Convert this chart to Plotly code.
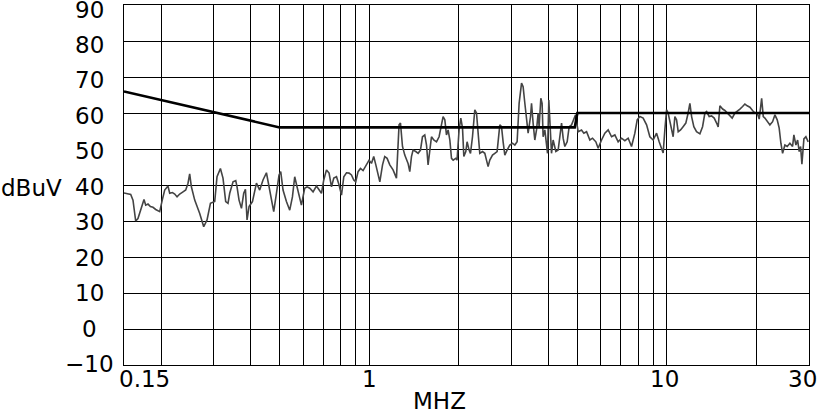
"""Conducted emission scan (dBuV vs MHz) with limit line, drawn with Plotly."""

import math
import plotly.graph_objects as go

# Measured trace: frequency in MHz and level in dBuV
freq_mhz = [
    0.150, 0.152, 0.158, 0.1608, 0.1642, 0.1671, 0.1716, 0.1751, 0.1774, 0.1806,
    0.1840, 0.1877, 0.1917, 0.1942, 0.1977, 0.2019, 0.2055, 0.2108, 0.2136, 0.2182,
    0.2221, 0.2261, 0.2308, 0.2368, 0.2418, 0.2461, 0.2493, 0.2526, 0.2592, 0.2694,
    0.2779, 0.2851, 0.2927, 0.3026, 0.3080, 0.3162, 0.3226, 0.3294, 0.3353, 0.3398,
    0.3486, 0.3560, 0.3596, 0.3652, 0.3721, 0.3787, 0.3837, 0.3885, 0.3946, 0.4051,
    0.4178, 0.4285, 0.4396, 0.4514, 0.4606, 0.4692, 0.4776, 0.4877, 0.4976, 0.5042,
    0.5132, 0.5269, 0.5405, 0.5519, 0.5618, 0.5719, 0.5840, 0.5917, 0.6067, 0.6180,
    0.6311, 0.6474, 0.6646, 0.6782, 0.6909, 0.7033, 0.7182, 0.7328, 0.7466, 0.7600,
    0.7761, 0.7918, 0.8067, 0.8212, 0.8385, 0.8554, 0.8713, 0.8869, 0.9007, 0.9171,
    0.9342, 0.9532, 0.9732, 0.9985, 1.017, 1.035, 1.052, 1.071, 1.085, 1.108,
    1.127, 1.148, 1.172, 1.202, 1.234, 1.259, 1.273, 1.293, 1.316, 1.350,
    1.368, 1.386, 1.403, 1.433, 1.459, 1.486, 1.509, 1.536, 1.557, 1.576,
    1.597, 1.618, 1.647, 1.682, 1.716, 1.748, 1.770, 1.794, 1.817, 1.840,
    1.865, 1.889, 1.913, 1.953, 1.972, 2.003, 2.030, 2.057, 2.078, 2.110,
    2.131, 2.164, 2.188, 2.222, 2.262, 2.292, 2.320, 2.351, 2.401, 2.444,
    2.476, 2.507, 2.540, 2.594, 2.641, 2.688, 2.745, 2.781, 2.816, 2.853,
    2.904, 2.966, 3.028, 3.083, 3.138, 3.187, 3.247, 3.287, 3.331, 3.375,
    3.417, 3.481, 3.508, 3.551, 3.598, 3.646, 3.692, 3.720, 3.770, 3.807,
    3.837, 3.888, 3.939, 3.970, 4.010, 4.041, 4.094, 4.146, 4.234, 4.310,
    4.367, 4.425, 4.480, 4.539, 4.621, 4.693, 4.781, 4.867, 4.931, 5.031,
    5.164, 5.258, 5.369, 5.508, 5.623, 5.769, 5.873, 6.029, 6.185, 6.346,
    6.514, 6.683, 6.855, 7.038, 7.221, 7.408, 7.603, 7.802, 7.943, 8.110,
    8.318, 8.541, 8.761, 8.988, 9.227, 9.415, 9.592, 9.710, 9.838, 9.970,
    10.09, 10.22, 10.36, 10.49, 10.63, 10.77, 10.91, 11.11, 11.33, 11.57,
    11.78, 11.94, 12.10, 12.31, 12.57, 12.90, 13.17, 13.41, 13.59, 13.86,
    14.12, 14.41, 14.68, 14.86, 15.06, 15.38, 15.65, 15.94, 16.27, 16.56,
    16.91, 17.21, 17.58, 17.95, 18.27, 18.60, 18.99, 19.39, 19.74, 20.10,
    20.41, 20.80, 21.06, 21.33, 21.72, 22.17, 22.64, 23.05, 23.46, 23.82,
    24.14, 24.46, 24.90, 25.35, 25.88, 26.42, 26.69, 27.11, 27.47, 27.81,
    28.11, 28.40, 28.84, 29.29, 29.82,
]
level_dbuv = [
    37.8, 37.7, 37.4, 35.8, 30.0, 30.7, 33.5, 36.0, 34.4, 34.7,
    34.0, 33.8, 33.2, 33.0, 32.6, 36.0, 38.6, 39.7, 37.7, 37.9,
    37.5, 36.7, 37.5, 38.1, 38.6, 40.5, 43.1, 39.5, 35.8, 32.1,
    28.4, 30.3, 34.9, 35.4, 42.3, 44.6, 41.9, 35.4, 34.9, 37.7,
    40.9, 41.2, 39.5, 35.8, 33.5, 37.7, 38.8, 30.3, 34.0, 35.4,
    40.5, 38.6, 41.4, 43.4, 39.5, 35.8, 32.6, 37.7, 42.8, 43.7,
    38.6, 35.4, 33.0, 36.7, 42.3, 39.5, 35.8, 34.4, 39.1, 39.5,
    39.1, 38.1, 39.7, 38.8, 37.7, 41.4, 44.2, 43.3, 39.5, 41.9,
    42.3, 40.0, 37.2, 42.3, 43.4, 43.3, 42.8, 41.4, 40.9, 43.7,
    44.6, 44.0, 45.3, 46.9, 46.0, 47.9, 45.6, 42.3, 40.9, 45.6,
    47.9, 47.4, 45.6, 44.2, 41.9, 56.7, 57.2, 50.7, 48.3, 46.0,
    43.7, 47.9, 49.7, 49.3, 48.8, 49.7, 53.4, 53.9, 51.1, 45.6,
    49.7, 53.4, 52.5, 52.0, 53.4, 56.7, 59.0, 58.1, 53.9, 55.3,
    52.5, 47.4, 46.9, 47.4, 46.9, 55.3, 58.6, 55.8, 47.9, 49.3,
    52.0, 49.7, 48.8, 53.4, 60.9, 60.0, 53.4, 48.8, 49.3, 48.8,
    46.9, 45.1, 46.9, 48.3, 48.8, 49.3, 56.7, 56.2, 52.0, 48.3,
    49.7, 51.1, 51.6, 51.1, 52.0, 62.7, 68.3, 67.3, 62.7, 57.2,
    54.4, 59.0, 62.7, 57.2, 52.5, 55.3, 60.0, 56.2, 64.1, 62.7,
    53.4, 55.3, 49.7, 48.8, 63.6, 56.2, 48.8, 52.5, 49.3, 49.7,
    53.4, 57.2, 53.0, 50.7, 52.0, 56.2, 56.7, 58.6, 59.5, 54.8,
    55.3, 54.4, 54.8, 52.5, 53.0, 52.0, 50.2, 52.5, 54.4, 55.3,
    53.4, 53.9, 52.0, 53.0, 52.3, 53.0, 50.7, 54.4, 58.1, 59.0,
    58.6, 56.7, 53.4, 52.5, 54.4, 52.0, 49.7, 48.9, 55.3, 60.9,
    60.0, 57.6, 55.3, 53.4, 59.0, 58.1, 54.8, 55.3, 56.2, 57.2,
    60.0, 62.7, 59.0, 56.2, 54.8, 54.2, 56.2, 60.0, 60.4, 59.0,
    59.2, 58.6, 57.2, 56.1, 62.0, 61.1, 60.7, 60.1, 59.2, 58.6,
    60.0, 60.4, 61.1, 61.8, 62.5, 62.0, 61.6, 60.7, 60.0, 60.0,
    58.3, 64.1, 59.0, 58.6, 57.6, 56.7, 57.6, 59.5, 58.1, 55.8,
    51.6, 48.8, 51.1, 50.7, 51.6, 50.7, 53.9, 51.1, 52.5, 49.3,
    50.7, 45.8, 52.8, 53.4, 52.0,
]

# Limit line
limit_freq = [0.15, 0.5, 4.9, 5.0, 30.0]
limit_level = [66.0, 56.0, 56.0, 60.0, 60.0]

# Axis grid / labels
x_grid = [0.2, 0.3, 0.4, 0.5, 0.6, 0.7, 0.8, 0.9, 1, 2, 3, 4, 5, 6, 7, 8, 9, 10, 20]
y_ticks = [-10, 0, 10, 20, 30, 40, 50, 60, 70, 80, 90]
x_labels = ["0.15", "1", "10", "30"]
x_label_pos = [0.15, 1, 10, 30]

X_MIN, X_MAX = 0.15, 30.0
FONT = "DejaVu Sans, Verdana, sans-serif"
LABEL_FONT = dict(family=FONT, size=23, color='black')

fig = go.Figure()

fig.add_trace(go.Scatter(
    x=freq_mhz,
    y=level_dbuv,
    mode='lines',
    line=dict(color='#444444', width=1.6),
    hoverinfo='skip',
))

fig.add_trace(go.Scatter(
    x=limit_freq,
    y=limit_level,
    mode='lines',
    line=dict(color='black', width=2.6),
    hoverinfo='skip',
))

# Y tick labels, centred in a column left of the plot
for v in y_ticks:
    fig.add_annotation(
        text=f'{v}'.replace('-', '\u2212'), x=0, y=v,
        xref='paper', yref='y', xanchor='center', yanchor='middle',
        xshift=-35, yshift=-(4.5 - (90 - v) * 0.055), showarrow=False,
        font=LABEL_FONT,
    )

# X tick labels (annotation x on a log axis is in log10 units)
shifts = [20, 0, -2, -7]
for text, pos, sh in zip(x_labels, x_label_pos, shifts):
    fig.add_annotation(
        text=text, x=math.log10(pos), y=0,
        xref='x', yref='paper', xanchor='center', yanchor='middle',
        xshift=sh, yshift=-13.5, showarrow=False,
        font=LABEL_FONT,
    )

fig.add_annotation(
    text='dBuV', x=0, y=40, xref='paper', yref='y',
    xanchor='left', yanchor='middle', xshift=-125, yshift=-3,
    showarrow=False, font=LABEL_FONT,
)
fig.add_annotation(
    text='MHZ', x=0.4606, y=0, xref='paper', yref='paper',
    xanchor='center', yanchor='middle', yshift=-36, showarrow=False,
    font=LABEL_FONT,
)

fig.update_layout(
    width=817,
    height=414,
    margin=dict(l=124, r=8, t=5, b=49),
    paper_bgcolor='white',
    plot_bgcolor='white',
    showlegend=False,
    xaxis=dict(
        type='log',
        range=[math.log10(X_MIN), math.log10(X_MAX)],
        tickvals=x_grid,
        showticklabels=False,
        ticks='',
        showgrid=True,
        gridcolor='black',
        gridwidth=1,
        showline=True,
        linecolor='black',
        linewidth=1,
        mirror=True,
        zeroline=False,
        automargin=False,
    ),
    yaxis=dict(
        range=[-10, 90],
        tickvals=y_ticks,
        showticklabels=False,
        ticks='',
        showgrid=True,
        gridcolor='black',
        gridwidth=1,
        showline=True,
        linecolor='black',
        linewidth=1,
        mirror=True,
        zeroline=False,
        automargin=False,
    ),
)

# drop the default page margin so the figure sits at the window's top-left
fig.write_html(
    "out.html",
    config={'displayModeBar': False},
    post_script="document.body.style.margin='0';",
)
